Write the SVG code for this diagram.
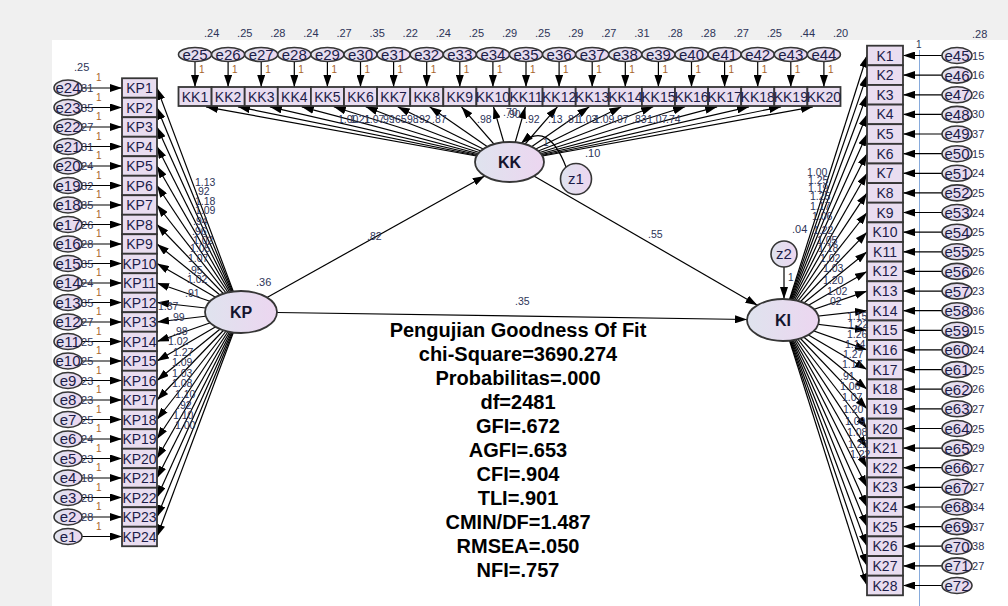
<svg xmlns="http://www.w3.org/2000/svg" width="1008" height="606" viewBox="0 0 1008 606">
<style>
.box{fill:#e9ddf0;stroke:#363636;stroke-width:1.8}
.err{fill:url(#eg);stroke:#363636;stroke-width:1.6}
.lat{fill:url(#eg);stroke:#363636;stroke-width:1.8}
.ln{stroke:#000;stroke-width:1.2;fill:none;marker-end:url(#ah)}
text{font-family:"Liberation Sans",Arial,sans-serif}
.tb{font-size:14px;fill:#1c1c48;text-anchor:middle}
.te{font-size:15px;fill:#1c1c48;text-anchor:middle}
.tl{font-size:16px;font-weight:bold;fill:#14142e;text-anchor:middle}
.v{font-size:11px;fill:#2d3458}
.w{font-size:10.5px;fill:#2d3458}
.one{font-size:10px;fill:#a8642a}
.fit{font-size:20px;font-weight:bold;fill:#000;text-anchor:middle}
</style>
<defs>
<linearGradient id="eg" x1="0" y1="0" x2="1" y2="0">
<stop offset="0" stop-color="#dfe3ee"/>
<stop offset="1" stop-color="#ecd6f0"/>
</linearGradient>
<marker id="ah" markerUnits="userSpaceOnUse" markerWidth="12" markerHeight="8" viewBox="0 0 12 8" refX="12" refY="4" orient="auto">
<path d="M0,0 L12,4 L0,8 z" fill="#000"/>
</marker>
</defs>

<!-- canvas -->
<rect x="0" y="0" width="1008" height="606" fill="#f0f0f0"/>
<rect x="52" y="40" width="956" height="566" fill="#fff"/>
<line x1="919.5" y1="50" x2="919.5" y2="606" stroke="#86aadb" stroke-width="1"/>

<g id="connectors">
<!-- error terms to KK indicators -->
<line class="ln" x1="195" y1="61.5" x2="195" y2="87"/>
<line class="ln" x1="228.1" y1="61.5" x2="228.1" y2="87"/>
<line class="ln" x1="261.2" y1="61.5" x2="261.2" y2="87"/>
<line class="ln" x1="294.3" y1="61.5" x2="294.3" y2="87"/>
<line class="ln" x1="327.4" y1="61.5" x2="327.4" y2="87"/>
<line class="ln" x1="360.5" y1="61.5" x2="360.5" y2="87"/>
<line class="ln" x1="393.6" y1="61.5" x2="393.6" y2="87"/>
<line class="ln" x1="426.7" y1="61.5" x2="426.7" y2="87"/>
<line class="ln" x1="459.8" y1="61.5" x2="459.8" y2="87"/>
<line class="ln" x1="492.9" y1="61.5" x2="492.9" y2="87"/>
<line class="ln" x1="526" y1="61.5" x2="526" y2="87"/>
<line class="ln" x1="559.1" y1="61.5" x2="559.1" y2="87"/>
<line class="ln" x1="592.2" y1="61.5" x2="592.2" y2="87"/>
<line class="ln" x1="625.3" y1="61.5" x2="625.3" y2="87"/>
<line class="ln" x1="658.4" y1="61.5" x2="658.4" y2="87"/>
<line class="ln" x1="691.5" y1="61.5" x2="691.5" y2="87"/>
<line class="ln" x1="724.6" y1="61.5" x2="724.6" y2="87"/>
<line class="ln" x1="757.7" y1="61.5" x2="757.7" y2="87"/>
<line class="ln" x1="790.8" y1="61.5" x2="790.8" y2="87"/>
<line class="ln" x1="823.9" y1="61.5" x2="823.9" y2="87"/>
<!-- KK loadings -->
<line class="ln" x1="509.5" y1="162" x2="206" y2="106.8"/>
<line class="ln" x1="509.5" y1="162" x2="238" y2="106.8"/>
<line class="ln" x1="509.5" y1="162" x2="269.9" y2="106.8"/>
<line class="ln" x1="509.5" y1="162" x2="301.8" y2="106.8"/>
<line class="ln" x1="509.5" y1="162" x2="333.8" y2="106.8"/>
<line class="ln" x1="509.5" y1="162" x2="365.7" y2="106.8"/>
<line class="ln" x1="509.5" y1="162" x2="397.7" y2="106.8"/>
<line class="ln" x1="509.5" y1="162" x2="429.6" y2="106.8"/>
<line class="ln" x1="509.5" y1="162" x2="461.5" y2="106.8"/>
<line class="ln" x1="509.5" y1="162" x2="493.5" y2="106.8"/>
<line class="ln" x1="509.5" y1="162" x2="525.4" y2="106.8"/>
<line class="ln" x1="509.5" y1="162" x2="557.4" y2="106.8"/>
<line class="ln" x1="509.5" y1="162" x2="589.3" y2="106.8"/>
<line class="ln" x1="509.5" y1="162" x2="621.3" y2="106.8"/>
<line class="ln" x1="509.5" y1="162" x2="653.2" y2="106.8"/>
<line class="ln" x1="509.5" y1="162" x2="685.1" y2="106.8"/>
<line class="ln" x1="509.5" y1="162" x2="717.1" y2="106.8"/>
<line class="ln" x1="509.5" y1="162" x2="749" y2="106.8"/>
<line class="ln" x1="509.5" y1="162" x2="781" y2="106.8"/>
<line class="ln" x1="509.5" y1="162" x2="812.9" y2="106.8"/>
<!-- error terms to KP indicators -->
<line class="ln" x1="82" y1="88" x2="122" y2="88"/>
<line class="ln" x1="82" y1="107.5" x2="122" y2="107.5"/>
<line class="ln" x1="82" y1="127" x2="122" y2="127"/>
<line class="ln" x1="82" y1="146.5" x2="122" y2="146.5"/>
<line class="ln" x1="82" y1="166" x2="122" y2="166"/>
<line class="ln" x1="82" y1="185.5" x2="122" y2="185.5"/>
<line class="ln" x1="82" y1="205" x2="122" y2="205"/>
<line class="ln" x1="82" y1="224.5" x2="122" y2="224.5"/>
<line class="ln" x1="82" y1="244" x2="122" y2="244"/>
<line class="ln" x1="82" y1="263.5" x2="122" y2="263.5"/>
<line class="ln" x1="82" y1="283" x2="122" y2="283"/>
<line class="ln" x1="82" y1="302.5" x2="122" y2="302.5"/>
<line class="ln" x1="82" y1="322" x2="122" y2="322"/>
<line class="ln" x1="82" y1="341.5" x2="122" y2="341.5"/>
<line class="ln" x1="82" y1="361" x2="122" y2="361"/>
<line class="ln" x1="82" y1="380.5" x2="122" y2="380.5"/>
<line class="ln" x1="82" y1="400" x2="122" y2="400"/>
<line class="ln" x1="82" y1="419.5" x2="122" y2="419.5"/>
<line class="ln" x1="82" y1="439" x2="122" y2="439"/>
<line class="ln" x1="82" y1="458.5" x2="122" y2="458.5"/>
<line class="ln" x1="82" y1="478" x2="122" y2="478"/>
<line class="ln" x1="82" y1="497.5" x2="122" y2="497.5"/>
<line class="ln" x1="82" y1="517" x2="122" y2="517"/>
<line class="ln" x1="82" y1="536.5" x2="122" y2="536.5"/>
<!-- KP loadings -->
<line class="ln" x1="241" y1="312" x2="157" y2="88"/>
<line class="ln" x1="241" y1="312" x2="157" y2="107.5"/>
<line class="ln" x1="241" y1="312" x2="157" y2="127"/>
<line class="ln" x1="241" y1="312" x2="157" y2="146.5"/>
<line class="ln" x1="241" y1="312" x2="157" y2="166"/>
<line class="ln" x1="241" y1="312" x2="157" y2="185.5"/>
<line class="ln" x1="241" y1="312" x2="157" y2="205"/>
<line class="ln" x1="241" y1="312" x2="157" y2="224.5"/>
<line class="ln" x1="241" y1="312" x2="157" y2="244"/>
<line class="ln" x1="241" y1="312" x2="157" y2="263.5"/>
<line class="ln" x1="241" y1="312" x2="157" y2="283"/>
<line class="ln" x1="241" y1="312" x2="157" y2="302.5"/>
<line class="ln" x1="241" y1="312" x2="157" y2="322"/>
<line class="ln" x1="241" y1="312" x2="157" y2="341.5"/>
<line class="ln" x1="241" y1="312" x2="157" y2="361"/>
<line class="ln" x1="241" y1="312" x2="157" y2="380.5"/>
<line class="ln" x1="241" y1="312" x2="157" y2="400"/>
<line class="ln" x1="241" y1="312" x2="157" y2="419.5"/>
<line class="ln" x1="241" y1="312" x2="157" y2="439"/>
<line class="ln" x1="241" y1="312" x2="157" y2="458.5"/>
<line class="ln" x1="241" y1="312" x2="157" y2="478"/>
<line class="ln" x1="241" y1="312" x2="157" y2="497.5"/>
<line class="ln" x1="241" y1="312" x2="157" y2="517"/>
<line class="ln" x1="241" y1="312" x2="157" y2="536.5"/>
<!-- error terms to KI indicators -->
<line class="ln" x1="942" y1="55.5" x2="903" y2="55.5"/>
<line class="ln" x1="942" y1="75.1" x2="903" y2="75.1"/>
<line class="ln" x1="942" y1="94.8" x2="903" y2="94.8"/>
<line class="ln" x1="942" y1="114.4" x2="903" y2="114.4"/>
<line class="ln" x1="942" y1="134" x2="903" y2="134"/>
<line class="ln" x1="942" y1="153.7" x2="903" y2="153.7"/>
<line class="ln" x1="942" y1="173.3" x2="903" y2="173.3"/>
<line class="ln" x1="942" y1="192.9" x2="903" y2="192.9"/>
<line class="ln" x1="942" y1="212.5" x2="903" y2="212.5"/>
<line class="ln" x1="942" y1="232.2" x2="903" y2="232.2"/>
<line class="ln" x1="942" y1="251.8" x2="903" y2="251.8"/>
<line class="ln" x1="942" y1="271.4" x2="903" y2="271.4"/>
<line class="ln" x1="942" y1="291.1" x2="903" y2="291.1"/>
<line class="ln" x1="942" y1="310.7" x2="903" y2="310.7"/>
<line class="ln" x1="942" y1="330.3" x2="903" y2="330.3"/>
<line class="ln" x1="942" y1="349.9" x2="903" y2="349.9"/>
<line class="ln" x1="942" y1="369.6" x2="903" y2="369.6"/>
<line class="ln" x1="942" y1="389.2" x2="903" y2="389.2"/>
<line class="ln" x1="942" y1="408.8" x2="903" y2="408.8"/>
<line class="ln" x1="942" y1="428.5" x2="903" y2="428.5"/>
<line class="ln" x1="942" y1="448.1" x2="903" y2="448.1"/>
<line class="ln" x1="942" y1="467.7" x2="903" y2="467.7"/>
<line class="ln" x1="942" y1="487.3" x2="903" y2="487.3"/>
<line class="ln" x1="942" y1="507" x2="903" y2="507"/>
<line class="ln" x1="942" y1="526.6" x2="903" y2="526.6"/>
<line class="ln" x1="942" y1="546.2" x2="903" y2="546.2"/>
<line class="ln" x1="942" y1="565.9" x2="903" y2="565.9"/>
<line class="ln" x1="942" y1="585.5" x2="903" y2="585.5"/>
<!-- KI loadings -->
<line class="ln" x1="783" y1="320" x2="867" y2="55.5"/>
<line class="ln" x1="783" y1="320" x2="867" y2="75.1"/>
<line class="ln" x1="783" y1="320" x2="867" y2="94.8"/>
<line class="ln" x1="783" y1="320" x2="867" y2="114.4"/>
<line class="ln" x1="783" y1="320" x2="867" y2="134"/>
<line class="ln" x1="783" y1="320" x2="867" y2="153.7"/>
<line class="ln" x1="783" y1="320" x2="867" y2="173.3"/>
<line class="ln" x1="783" y1="320" x2="867" y2="192.9"/>
<line class="ln" x1="783" y1="320" x2="867" y2="212.5"/>
<line class="ln" x1="783" y1="320" x2="867" y2="232.2"/>
<line class="ln" x1="783" y1="320" x2="867" y2="251.8"/>
<line class="ln" x1="783" y1="320" x2="867" y2="271.4"/>
<line class="ln" x1="783" y1="320" x2="867" y2="291.1"/>
<line class="ln" x1="783" y1="320" x2="867" y2="310.7"/>
<line class="ln" x1="783" y1="320" x2="867" y2="330.3"/>
<line class="ln" x1="783" y1="320" x2="867" y2="349.9"/>
<line class="ln" x1="783" y1="320" x2="867" y2="369.6"/>
<line class="ln" x1="783" y1="320" x2="867" y2="389.2"/>
<line class="ln" x1="783" y1="320" x2="867" y2="408.8"/>
<line class="ln" x1="783" y1="320" x2="867" y2="428.5"/>
<line class="ln" x1="783" y1="320" x2="867" y2="448.1"/>
<line class="ln" x1="783" y1="320" x2="867" y2="467.7"/>
<line class="ln" x1="783" y1="320" x2="867" y2="487.3"/>
<line class="ln" x1="783" y1="320" x2="867" y2="507"/>
<line class="ln" x1="783" y1="320" x2="867" y2="526.6"/>
<line class="ln" x1="783" y1="320" x2="867" y2="546.2"/>
<line class="ln" x1="783" y1="320" x2="867" y2="565.9"/>
<line class="ln" x1="783" y1="320" x2="867" y2="585.5"/>
<!-- structural paths -->
<line class="ln" x1="267" y1="297.5" x2="484.7" y2="175.9"/>
<line class="ln" x1="533.9" y1="176.1" x2="757.4" y2="305.2"/>
<line class="ln" x1="277" y1="312.5" x2="747" y2="319.5"/>
<path class="ln" d="M566,167 Q548,120 521,143.5"/>
<line class="ln" x1="784" y1="267" x2="784" y2="299"/>
</g>

<!-- top error terms -->
<g id="e25"><ellipse class="err" cx="195" cy="54.5" rx="16.5" ry="7"/><text class="te" x="195" y="59.9">e25</text></g>
<g id="e26"><ellipse class="err" cx="228.1" cy="54.5" rx="16.5" ry="7"/><text class="te" x="228.1" y="59.9">e26</text></g>
<g id="e27"><ellipse class="err" cx="261.2" cy="54.5" rx="16.5" ry="7"/><text class="te" x="261.2" y="59.9">e27</text></g>
<g id="e28"><ellipse class="err" cx="294.3" cy="54.5" rx="16.5" ry="7"/><text class="te" x="294.3" y="59.9">e28</text></g>
<g id="e29"><ellipse class="err" cx="327.4" cy="54.5" rx="16.5" ry="7"/><text class="te" x="327.4" y="59.9">e29</text></g>
<g id="e30"><ellipse class="err" cx="360.5" cy="54.5" rx="16.5" ry="7"/><text class="te" x="360.5" y="59.9">e30</text></g>
<g id="e31"><ellipse class="err" cx="393.6" cy="54.5" rx="16.5" ry="7"/><text class="te" x="393.6" y="59.9">e31</text></g>
<g id="e32"><ellipse class="err" cx="426.7" cy="54.5" rx="16.5" ry="7"/><text class="te" x="426.7" y="59.9">e32</text></g>
<g id="e33"><ellipse class="err" cx="459.8" cy="54.5" rx="16.5" ry="7"/><text class="te" x="459.8" y="59.9">e33</text></g>
<g id="e34"><ellipse class="err" cx="492.9" cy="54.5" rx="16.5" ry="7"/><text class="te" x="492.9" y="59.9">e34</text></g>
<g id="e35"><ellipse class="err" cx="526" cy="54.5" rx="16.5" ry="7"/><text class="te" x="526" y="59.9">e35</text></g>
<g id="e36"><ellipse class="err" cx="559.1" cy="54.5" rx="16.5" ry="7"/><text class="te" x="559.1" y="59.9">e36</text></g>
<g id="e37"><ellipse class="err" cx="592.2" cy="54.5" rx="16.5" ry="7"/><text class="te" x="592.2" y="59.9">e37</text></g>
<g id="e38"><ellipse class="err" cx="625.3" cy="54.5" rx="16.5" ry="7"/><text class="te" x="625.3" y="59.9">e38</text></g>
<g id="e39"><ellipse class="err" cx="658.4" cy="54.5" rx="16.5" ry="7"/><text class="te" x="658.4" y="59.9">e39</text></g>
<g id="e40"><ellipse class="err" cx="691.5" cy="54.5" rx="16.5" ry="7"/><text class="te" x="691.5" y="59.9">e40</text></g>
<g id="e41"><ellipse class="err" cx="724.6" cy="54.5" rx="16.5" ry="7"/><text class="te" x="724.6" y="59.9">e41</text></g>
<g id="e42"><ellipse class="err" cx="757.7" cy="54.5" rx="16.5" ry="7"/><text class="te" x="757.7" y="59.9">e42</text></g>
<g id="e43"><ellipse class="err" cx="790.8" cy="54.5" rx="16.5" ry="7"/><text class="te" x="790.8" y="59.9">e43</text></g>
<g id="e44"><ellipse class="err" cx="823.9" cy="54.5" rx="16.5" ry="7"/><text class="te" x="823.9" y="59.9">e44</text></g>

<!-- KK indicators -->
<g id="KK1"><rect class="box" x="178.5" y="87" width="33.1" height="19"/><text class="tb" x="195" y="101.5">KK1</text></g>
<g id="KK2"><rect class="box" x="211.6" y="87" width="33.1" height="19"/><text class="tb" x="228.1" y="101.5">KK2</text></g>
<g id="KK3"><rect class="box" x="244.7" y="87" width="33.1" height="19"/><text class="tb" x="261.2" y="101.5">KK3</text></g>
<g id="KK4"><rect class="box" x="277.8" y="87" width="33.1" height="19"/><text class="tb" x="294.3" y="101.5">KK4</text></g>
<g id="KK5"><rect class="box" x="310.9" y="87" width="33.1" height="19"/><text class="tb" x="327.4" y="101.5">KK5</text></g>
<g id="KK6"><rect class="box" x="344" y="87" width="33.1" height="19"/><text class="tb" x="360.5" y="101.5">KK6</text></g>
<g id="KK7"><rect class="box" x="377.1" y="87" width="33.1" height="19"/><text class="tb" x="393.6" y="101.5">KK7</text></g>
<g id="KK8"><rect class="box" x="410.2" y="87" width="33.1" height="19"/><text class="tb" x="426.7" y="101.5">KK8</text></g>
<g id="KK9"><rect class="box" x="443.3" y="87" width="33.1" height="19"/><text class="tb" x="459.8" y="101.5">KK9</text></g>
<g id="KK10"><rect class="box" x="476.4" y="87" width="33.1" height="19"/><text class="tb" x="492.9" y="101.5">KK10</text></g>
<g id="KK11"><rect class="box" x="509.5" y="87" width="33.1" height="19"/><text class="tb" x="526" y="101.5">KK11</text></g>
<g id="KK12"><rect class="box" x="542.6" y="87" width="33.1" height="19"/><text class="tb" x="559.1" y="101.5">KK12</text></g>
<g id="KK13"><rect class="box" x="575.7" y="87" width="33.1" height="19"/><text class="tb" x="592.2" y="101.5">KK13</text></g>
<g id="KK14"><rect class="box" x="608.8" y="87" width="33.1" height="19"/><text class="tb" x="625.3" y="101.5">KK14</text></g>
<g id="KK15"><rect class="box" x="641.9" y="87" width="33.1" height="19"/><text class="tb" x="658.4" y="101.5">KK15</text></g>
<g id="KK16"><rect class="box" x="675" y="87" width="33.1" height="19"/><text class="tb" x="691.5" y="101.5">KK16</text></g>
<g id="KK17"><rect class="box" x="708.1" y="87" width="33.1" height="19"/><text class="tb" x="724.6" y="101.5">KK17</text></g>
<g id="KK18"><rect class="box" x="741.2" y="87" width="33.1" height="19"/><text class="tb" x="757.7" y="101.5">KK18</text></g>
<g id="KK19"><rect class="box" x="774.3" y="87" width="33.1" height="19"/><text class="tb" x="790.8" y="101.5">KK19</text></g>
<g id="KK20"><rect class="box" x="807.4" y="87" width="33.1" height="19"/><text class="tb" x="823.9" y="101.5">KK20</text></g>

<!-- KP indicators and their error terms -->
<g id="KP1"><rect class="box" x="122" y="78.25" width="35" height="19.5"/><text class="tb" x="139.5" y="93">KP1</text></g>
<g id="KP2"><rect class="box" x="122" y="97.75" width="35" height="19.5"/><text class="tb" x="139.5" y="112.5">KP2</text></g>
<g id="KP3"><rect class="box" x="122" y="117.25" width="35" height="19.5"/><text class="tb" x="139.5" y="132">KP3</text></g>
<g id="KP4"><rect class="box" x="122" y="136.75" width="35" height="19.5"/><text class="tb" x="139.5" y="151.5">KP4</text></g>
<g id="KP5"><rect class="box" x="122" y="156.25" width="35" height="19.5"/><text class="tb" x="139.5" y="171">KP5</text></g>
<g id="KP6"><rect class="box" x="122" y="175.75" width="35" height="19.5"/><text class="tb" x="139.5" y="190.5">KP6</text></g>
<g id="KP7"><rect class="box" x="122" y="195.25" width="35" height="19.5"/><text class="tb" x="139.5" y="210">KP7</text></g>
<g id="KP8"><rect class="box" x="122" y="214.75" width="35" height="19.5"/><text class="tb" x="139.5" y="229.5">KP8</text></g>
<g id="KP9"><rect class="box" x="122" y="234.25" width="35" height="19.5"/><text class="tb" x="139.5" y="249">KP9</text></g>
<g id="KP10"><rect class="box" x="122" y="253.75" width="35" height="19.5"/><text class="tb" x="139.5" y="268.5">KP10</text></g>
<g id="KP11"><rect class="box" x="122" y="273.25" width="35" height="19.5"/><text class="tb" x="139.5" y="288">KP11</text></g>
<g id="KP12"><rect class="box" x="122" y="292.75" width="35" height="19.5"/><text class="tb" x="139.5" y="307.5">KP12</text></g>
<g id="KP13"><rect class="box" x="122" y="312.25" width="35" height="19.5"/><text class="tb" x="139.5" y="327">KP13</text></g>
<g id="KP14"><rect class="box" x="122" y="331.75" width="35" height="19.5"/><text class="tb" x="139.5" y="346.5">KP14</text></g>
<g id="KP15"><rect class="box" x="122" y="351.25" width="35" height="19.5"/><text class="tb" x="139.5" y="366">KP15</text></g>
<g id="KP16"><rect class="box" x="122" y="370.75" width="35" height="19.5"/><text class="tb" x="139.5" y="385.5">KP16</text></g>
<g id="KP17"><rect class="box" x="122" y="390.25" width="35" height="19.5"/><text class="tb" x="139.5" y="405">KP17</text></g>
<g id="KP18"><rect class="box" x="122" y="409.75" width="35" height="19.5"/><text class="tb" x="139.5" y="424.5">KP18</text></g>
<g id="KP19"><rect class="box" x="122" y="429.25" width="35" height="19.5"/><text class="tb" x="139.5" y="444">KP19</text></g>
<g id="KP20"><rect class="box" x="122" y="448.75" width="35" height="19.5"/><text class="tb" x="139.5" y="463.5">KP20</text></g>
<g id="KP21"><rect class="box" x="122" y="468.25" width="35" height="19.5"/><text class="tb" x="139.5" y="483">KP21</text></g>
<g id="KP22"><rect class="box" x="122" y="487.75" width="35" height="19.5"/><text class="tb" x="139.5" y="502.5">KP22</text></g>
<g id="KP23"><rect class="box" x="122" y="507.25" width="35" height="19.5"/><text class="tb" x="139.5" y="522">KP23</text></g>
<g id="KP24"><rect class="box" x="122" y="526.75" width="35" height="19.5"/><text class="tb" x="139.5" y="541.5">KP24</text></g>

<g id="e24"><ellipse class="err" cx="68" cy="88" rx="14" ry="8"/><text class="te" x="68" y="93.4">e24</text></g>
<g id="e23"><ellipse class="err" cx="68" cy="107.5" rx="14" ry="8"/><text class="te" x="68" y="112.9">e23</text></g>
<g id="e22"><ellipse class="err" cx="68" cy="127" rx="14" ry="8"/><text class="te" x="68" y="132.4">e22</text></g>
<g id="e21"><ellipse class="err" cx="68" cy="146.5" rx="14" ry="8"/><text class="te" x="68" y="151.9">e21</text></g>
<g id="e20"><ellipse class="err" cx="68" cy="166" rx="14" ry="8"/><text class="te" x="68" y="171.4">e20</text></g>
<g id="e19"><ellipse class="err" cx="68" cy="185.5" rx="14" ry="8"/><text class="te" x="68" y="190.9">e19</text></g>
<g id="e18"><ellipse class="err" cx="68" cy="205" rx="14" ry="8"/><text class="te" x="68" y="210.4">e18</text></g>
<g id="e17"><ellipse class="err" cx="68" cy="224.5" rx="14" ry="8"/><text class="te" x="68" y="229.9">e17</text></g>
<g id="e16"><ellipse class="err" cx="68" cy="244" rx="14" ry="8"/><text class="te" x="68" y="249.4">e16</text></g>
<g id="e15"><ellipse class="err" cx="68" cy="263.5" rx="14" ry="8"/><text class="te" x="68" y="268.9">e15</text></g>
<g id="e14"><ellipse class="err" cx="68" cy="283" rx="14" ry="8"/><text class="te" x="68" y="288.4">e14</text></g>
<g id="e13"><ellipse class="err" cx="68" cy="302.5" rx="14" ry="8"/><text class="te" x="68" y="307.9">e13</text></g>
<g id="e12"><ellipse class="err" cx="68" cy="322" rx="14" ry="8"/><text class="te" x="68" y="327.4">e12</text></g>
<g id="e11"><ellipse class="err" cx="68" cy="341.5" rx="14" ry="8"/><text class="te" x="68" y="346.9">e11</text></g>
<g id="e10"><ellipse class="err" cx="68" cy="361" rx="14" ry="8"/><text class="te" x="68" y="366.4">e10</text></g>
<g id="e9"><ellipse class="err" cx="68" cy="380.5" rx="14" ry="8"/><text class="te" x="68" y="385.9">e9</text></g>
<g id="e8"><ellipse class="err" cx="68" cy="400" rx="14" ry="8"/><text class="te" x="68" y="405.4">e8</text></g>
<g id="e7"><ellipse class="err" cx="68" cy="419.5" rx="14" ry="8"/><text class="te" x="68" y="424.9">e7</text></g>
<g id="e6"><ellipse class="err" cx="68" cy="439" rx="14" ry="8"/><text class="te" x="68" y="444.4">e6</text></g>
<g id="e5"><ellipse class="err" cx="68" cy="458.5" rx="14" ry="8"/><text class="te" x="68" y="463.9">e5</text></g>
<g id="e4"><ellipse class="err" cx="68" cy="478" rx="14" ry="8"/><text class="te" x="68" y="483.4">e4</text></g>
<g id="e3"><ellipse class="err" cx="68" cy="497.5" rx="14" ry="8"/><text class="te" x="68" y="502.9">e3</text></g>
<g id="e2"><ellipse class="err" cx="68" cy="517" rx="14" ry="8"/><text class="te" x="68" y="522.4">e2</text></g>
<g id="e1"><ellipse class="err" cx="68" cy="536.5" rx="14" ry="8"/><text class="te" x="68" y="541.9">e1</text></g>

<!-- KI indicators and their error terms -->
<g id="K1"><rect class="box" x="867" y="45.7" width="36" height="19.6"/><text class="tb" x="885" y="60.5">K1</text></g>
<g id="K2"><rect class="box" x="867" y="65.3" width="36" height="19.6"/><text class="tb" x="885" y="80.1">K2</text></g>
<g id="K3"><rect class="box" x="867" y="85" width="36" height="19.6"/><text class="tb" x="885" y="99.8">K3</text></g>
<g id="K4"><rect class="box" x="867" y="104.6" width="36" height="19.6"/><text class="tb" x="885" y="119.4">K4</text></g>
<g id="K5"><rect class="box" x="867" y="124.2" width="36" height="19.6"/><text class="tb" x="885" y="139">K5</text></g>
<g id="K6"><rect class="box" x="867" y="143.9" width="36" height="19.6"/><text class="tb" x="885" y="158.7">K6</text></g>
<g id="K7"><rect class="box" x="867" y="163.5" width="36" height="19.6"/><text class="tb" x="885" y="178.3">K7</text></g>
<g id="K8"><rect class="box" x="867" y="183.1" width="36" height="19.6"/><text class="tb" x="885" y="197.9">K8</text></g>
<g id="K9"><rect class="box" x="867" y="202.7" width="36" height="19.6"/><text class="tb" x="885" y="217.5">K9</text></g>
<g id="K10"><rect class="box" x="867" y="222.4" width="36" height="19.6"/><text class="tb" x="885" y="237.2">K10</text></g>
<g id="K11"><rect class="box" x="867" y="242" width="36" height="19.6"/><text class="tb" x="885" y="256.8">K11</text></g>
<g id="K12"><rect class="box" x="867" y="261.6" width="36" height="19.6"/><text class="tb" x="885" y="276.4">K12</text></g>
<g id="K13"><rect class="box" x="867" y="281.3" width="36" height="19.6"/><text class="tb" x="885" y="296.1">K13</text></g>
<g id="K14"><rect class="box" x="867" y="300.9" width="36" height="19.6"/><text class="tb" x="885" y="315.7">K14</text></g>
<g id="K15"><rect class="box" x="867" y="320.5" width="36" height="19.6"/><text class="tb" x="885" y="335.3">K15</text></g>
<g id="K16"><rect class="box" x="867" y="340.1" width="36" height="19.6"/><text class="tb" x="885" y="354.9">K16</text></g>
<g id="K17"><rect class="box" x="867" y="359.8" width="36" height="19.6"/><text class="tb" x="885" y="374.6">K17</text></g>
<g id="K18"><rect class="box" x="867" y="379.4" width="36" height="19.6"/><text class="tb" x="885" y="394.2">K18</text></g>
<g id="K19"><rect class="box" x="867" y="399" width="36" height="19.6"/><text class="tb" x="885" y="413.8">K19</text></g>
<g id="K20"><rect class="box" x="867" y="418.7" width="36" height="19.6"/><text class="tb" x="885" y="433.5">K20</text></g>
<g id="K21"><rect class="box" x="867" y="438.3" width="36" height="19.6"/><text class="tb" x="885" y="453.1">K21</text></g>
<g id="K22"><rect class="box" x="867" y="457.9" width="36" height="19.6"/><text class="tb" x="885" y="472.7">K22</text></g>
<g id="K23"><rect class="box" x="867" y="477.5" width="36" height="19.6"/><text class="tb" x="885" y="492.3">K23</text></g>
<g id="K24"><rect class="box" x="867" y="497.2" width="36" height="19.6"/><text class="tb" x="885" y="512">K24</text></g>
<g id="K25"><rect class="box" x="867" y="516.8" width="36" height="19.6"/><text class="tb" x="885" y="531.6">K25</text></g>
<g id="K26"><rect class="box" x="867" y="536.4" width="36" height="19.6"/><text class="tb" x="885" y="551.2">K26</text></g>
<g id="K27"><rect class="box" x="867" y="556.1" width="36" height="19.6"/><text class="tb" x="885" y="570.9">K27</text></g>
<g id="K28"><rect class="box" x="867" y="575.7" width="36" height="19.6"/><text class="tb" x="885" y="590.5">K28</text></g>

<g id="e45"><ellipse class="err" cx="957" cy="55.5" rx="15" ry="8"/><text class="te" x="957" y="60.9">e45</text></g>
<g id="e46"><ellipse class="err" cx="957" cy="75.1" rx="15" ry="8"/><text class="te" x="957" y="80.5">e46</text></g>
<g id="e47"><ellipse class="err" cx="957" cy="94.8" rx="15" ry="8"/><text class="te" x="957" y="100.2">e47</text></g>
<g id="e48"><ellipse class="err" cx="957" cy="114.4" rx="15" ry="8"/><text class="te" x="957" y="119.8">e48</text></g>
<g id="e49"><ellipse class="err" cx="957" cy="134" rx="15" ry="8"/><text class="te" x="957" y="139.4">e49</text></g>
<g id="e50"><ellipse class="err" cx="957" cy="153.7" rx="15" ry="8"/><text class="te" x="957" y="159.1">e50</text></g>
<g id="e51"><ellipse class="err" cx="957" cy="173.3" rx="15" ry="8"/><text class="te" x="957" y="178.7">e51</text></g>
<g id="e52"><ellipse class="err" cx="957" cy="192.9" rx="15" ry="8"/><text class="te" x="957" y="198.3">e52</text></g>
<g id="e53"><ellipse class="err" cx="957" cy="212.5" rx="15" ry="8"/><text class="te" x="957" y="217.9">e53</text></g>
<g id="e54"><ellipse class="err" cx="957" cy="232.2" rx="15" ry="8"/><text class="te" x="957" y="237.6">e54</text></g>
<g id="e55"><ellipse class="err" cx="957" cy="251.8" rx="15" ry="8"/><text class="te" x="957" y="257.2">e55</text></g>
<g id="e56"><ellipse class="err" cx="957" cy="271.4" rx="15" ry="8"/><text class="te" x="957" y="276.8">e56</text></g>
<g id="e57"><ellipse class="err" cx="957" cy="291.1" rx="15" ry="8"/><text class="te" x="957" y="296.5">e57</text></g>
<g id="e58"><ellipse class="err" cx="957" cy="310.7" rx="15" ry="8"/><text class="te" x="957" y="316.1">e58</text></g>
<g id="e59"><ellipse class="err" cx="957" cy="330.3" rx="15" ry="8"/><text class="te" x="957" y="335.7">e59</text></g>
<g id="e60"><ellipse class="err" cx="957" cy="349.9" rx="15" ry="8"/><text class="te" x="957" y="355.3">e60</text></g>
<g id="e61"><ellipse class="err" cx="957" cy="369.6" rx="15" ry="8"/><text class="te" x="957" y="375">e61</text></g>
<g id="e62"><ellipse class="err" cx="957" cy="389.2" rx="15" ry="8"/><text class="te" x="957" y="394.6">e62</text></g>
<g id="e63"><ellipse class="err" cx="957" cy="408.8" rx="15" ry="8"/><text class="te" x="957" y="414.2">e63</text></g>
<g id="e64"><ellipse class="err" cx="957" cy="428.5" rx="15" ry="8"/><text class="te" x="957" y="433.9">e64</text></g>
<g id="e65"><ellipse class="err" cx="957" cy="448.1" rx="15" ry="8"/><text class="te" x="957" y="453.5">e65</text></g>
<g id="e66"><ellipse class="err" cx="957" cy="467.7" rx="15" ry="8"/><text class="te" x="957" y="473.1">e66</text></g>
<g id="e67"><ellipse class="err" cx="957" cy="487.3" rx="15" ry="8"/><text class="te" x="957" y="492.7">e67</text></g>
<g id="e68"><ellipse class="err" cx="957" cy="507" rx="15" ry="8"/><text class="te" x="957" y="512.4">e68</text></g>
<g id="e69"><ellipse class="err" cx="957" cy="526.6" rx="15" ry="8"/><text class="te" x="957" y="532">e69</text></g>
<g id="e70"><ellipse class="err" cx="957" cy="546.2" rx="15" ry="8"/><text class="te" x="957" y="551.6">e70</text></g>
<g id="e71"><ellipse class="err" cx="957" cy="565.9" rx="15" ry="8"/><text class="te" x="957" y="571.3">e71</text></g>
<g id="e72"><ellipse class="err" cx="957" cy="585.5" rx="15" ry="8"/><text class="te" x="957" y="590.9">e72</text></g>

<!-- latent variables and disturbances -->
<g id="KK"><ellipse class="lat" cx="509.5" cy="162" rx="34.5" ry="20"/><text class="tl" x="509.5" y="168">KK</text></g>
<g id="KP"><ellipse class="lat" cx="241" cy="312" rx="36" ry="21"/><text class="tl" x="241" y="318">KP</text></g>
<g id="KI"><ellipse class="lat" cx="783" cy="320" rx="36" ry="21"/><text class="tl" x="783" y="326">KI</text></g>
<g id="z1"><circle class="err" cx="576" cy="179" r="15.5"/><text class="te" x="576" y="184.4">z1</text></g>
<g id="z2"><circle class="err" cx="784" cy="254" r="13"/><text class="te" x="784" y="259.4">z2</text></g>

<!-- estimates: variances -->
<g id="variances" class="v">
<text x="204" y="37">.24</text><text x="237.1" y="37">.25</text><text x="270.2" y="37">.28</text><text x="303.3" y="37">.24</text>
<text x="336.4" y="37">.27</text><text x="369.5" y="37">.35</text><text x="402.6" y="37">.22</text><text x="435.7" y="37">.24</text>
<text x="468.8" y="37">.25</text><text x="501.9" y="37">.29</text><text x="535" y="37">.25</text><text x="568.1" y="37">.29</text>
<text x="601.2" y="37">.27</text><text x="634.3" y="37">.31</text><text x="667.4" y="37">.28</text><text x="700.5" y="37">.28</text>
<text x="733.6" y="37">.27</text><text x="766.7" y="37">.25</text><text x="799.8" y="37">.44</text><text x="832.9" y="37">.20</text>
<text x="972" y="38">.28</text>
<text x="74" y="71">.25</text>
<text x="78" y="92">.31</text><text x="78" y="111.5">.35</text><text x="78" y="131">.27</text><text x="78" y="150.5">.31</text>
<text x="78" y="170">.24</text><text x="78" y="189.5">.32</text><text x="78" y="209">.35</text><text x="78" y="228.5">.26</text>
<text x="78" y="248">.28</text><text x="78" y="267.5">.35</text><text x="78" y="287">.24</text><text x="78" y="306.5">.35</text>
<text x="78" y="326">.27</text><text x="78" y="345.5">.25</text><text x="78" y="365">.25</text><text x="78" y="384.5">.23</text>
<text x="78" y="404">.23</text><text x="78" y="423.5">.25</text><text x="78" y="443">.24</text><text x="78" y="462.5">.23</text>
<text x="78" y="482">.18</text><text x="78" y="501.5">.28</text><text x="78" y="521">.28</text>
<text x="969" y="59.5">.15</text><text x="969" y="79.1">.16</text><text x="969" y="98.8">.26</text><text x="969" y="118.4">.30</text>
<text x="969" y="138">.37</text><text x="969" y="157.7">.15</text><text x="969" y="177.3">.24</text><text x="969" y="196.9">.25</text>
<text x="969" y="216.5">.24</text><text x="969" y="236.2">.25</text><text x="969" y="255.8">.25</text><text x="969" y="275.4">.26</text>
<text x="969" y="295.1">.23</text><text x="969" y="314.7">.36</text><text x="969" y="334.3">.15</text><text x="969" y="353.9">.24</text>
<text x="969" y="373.6">.25</text><text x="969" y="393.2">.26</text><text x="969" y="412.8">.27</text><text x="969" y="432.5">.25</text>
<text x="969" y="452.1">.29</text><text x="969" y="471.7">.27</text><text x="969" y="491.3">.27</text><text x="969" y="511">.34</text>
<text x="969" y="530.6">.37</text><text x="969" y="550.2">.38</text><text x="969" y="569.9">.27</text>
<text x="585" y="157">.10</text>
<text x="792" y="233">.04</text>
<text x="256" y="286">.36</text>
</g>

<!-- fixed weights -->
<g id="fixed" class="one">
<text x="199" y="73">1</text><text x="232.1" y="73">1</text><text x="265.2" y="73">1</text><text x="298.3" y="73">1</text>
<text x="331.4" y="73">1</text><text x="364.5" y="73">1</text><text x="397.6" y="73">1</text><text x="430.7" y="73">1</text>
<text x="463.8" y="73">1</text><text x="496.9" y="73">1</text><text x="530" y="73">1</text><text x="563.1" y="73">1</text>
<text x="596.2" y="73">1</text><text x="629.3" y="73">1</text><text x="662.4" y="73">1</text><text x="695.5" y="73">1</text>
<text x="728.6" y="73">1</text><text x="761.7" y="73">1</text><text x="794.8" y="73">1</text><text x="827.9" y="73">1</text>
<text x="96" y="81">1</text><text x="96" y="100.5">1</text><text x="96" y="120">1</text><text x="96" y="139.5">1</text>
<text x="96" y="159">1</text><text x="96" y="178.5">1</text><text x="96" y="198">1</text><text x="96" y="217.5">1</text>
<text x="96" y="237">1</text><text x="96" y="256.5">1</text><text x="96" y="276">1</text><text x="96" y="295.5">1</text>
<text x="96" y="315">1</text><text x="96" y="334.5">1</text><text x="96" y="354">1</text><text x="96" y="373.5">1</text>
<text x="96" y="393">1</text><text x="96" y="412.5">1</text><text x="96" y="432">1</text><text x="96" y="451.5">1</text>
<text x="96" y="471">1</text><text x="96" y="490.5">1</text><text x="96" y="510">1</text><text x="96" y="529.5">1</text>
<text x="916" y="48" fill="#2d3458">1</text>
<text x="543" y="146" fill="#2d3458">1</text>
<text x="788" y="281" fill="#2d3458">1</text>
</g>

<!-- estimates: loadings and paths -->
<g id="loadings" class="w">
<text x="338" y="123">1.00</text><text x="350" y="123">1.21</text><text x="364" y="123">1.07</text><text x="380" y="123">.99</text>
<text x="392" y="123">.65</text><text x="404" y="123">.98</text><text x="416" y="123">.92</text><text x="432" y="123">.87</text>
<text x="477" y="123">.98</text><text x="503" y="116">.70</text><text x="506" y="118">.90</text><text x="525" y="123">.92</text>
<text x="548" y="123">.13</text><text x="565" y="123">.81</text><text x="577" y="123">1.03</text><text x="594" y="123">1.09</text>
<text x="614" y="123">.97</text><text x="632" y="123">.83</text><text x="647" y="123">1.07</text><text x="666" y="123">.74</text>

<text x="195" y="186">1.13</text><text x="195" y="195">.92</text><text x="195" y="205">1.18</text><text x="195" y="214">1.09</text>
<text x="193" y="225">.94</text><text x="192" y="235">.96</text><text x="193" y="244">1.02</text><text x="190" y="252">1.05</text>
<text x="188" y="262">1.07</text><text x="188" y="274">.95</text><text x="187" y="283">1.02</text><text x="185" y="297">.91</text>
<text x="158" y="310">1.37</text><text x="170" y="321">.99</text><text x="173" y="335">.98</text><text x="168" y="345">1.02</text>
<text x="173" y="356">1.27</text><text x="172" y="366">1.09</text><text x="172" y="377">1.03</text><text x="172" y="387">1.08</text>
<text x="175" y="398">1.10</text><text x="177" y="409">.92</text><text x="173" y="419">1.10</text><text x="175" y="429">1.00</text>

<text x="807" y="176">1.00</text><text x="808" y="184">1.25</text><text x="808" y="192">1.19</text><text x="810" y="200">1.25</text>
<text x="810" y="210">1.17</text><text x="812" y="220">1.06</text><text x="813" y="234">1.22</text><text x="817" y="244">1.05</text>
<text x="818" y="252">1.18</text><text x="820" y="262">1.02</text><text x="823" y="272">1.03</text><text x="823" y="284">1.20</text>
<text x="827" y="295">1.02</text><text x="827" y="305">.02</text>
<text x="847" y="320">1.15</text><text x="848" y="328">1.22</text><text x="847" y="338">1.26</text><text x="845" y="348">1.14</text>
<text x="843" y="358">1.27</text><text x="842" y="368">1.17</text><text x="840" y="380">.91</text><text x="840" y="390">1.06</text>
<text x="842" y="401">1.07</text><text x="843" y="413">1.20</text><text x="845" y="425">1.09</text><text x="847" y="436">1.08</text>
<text x="848" y="448">1.22</text><text x="850" y="458">1.22</text>

<text x="367" y="240">.82</text>
<text x="648" y="238">.55</text>
<text x="515" y="305">.35</text>
</g>

<!-- model fit summary -->
<g id="fit" class="fit">
<text x="518" y="337">Pengujian Goodness Of Fit</text>
<text x="518" y="361">chi-Square=3690.274</text>
<text x="518" y="385">Probabilitas=.000</text>
<text x="518" y="409">df=2481</text>
<text x="518" y="433">GFI=.672</text>
<text x="518" y="457">AGFI=.653</text>
<text x="518" y="481">CFI=.904</text>
<text x="518" y="505">TLI=.901</text>
<text x="518" y="529">CMIN/DF=1.487</text>
<text x="518" y="553">RMSEA=.050</text>
<text x="518" y="577">NFI=.757</text>
</g>
</svg>
